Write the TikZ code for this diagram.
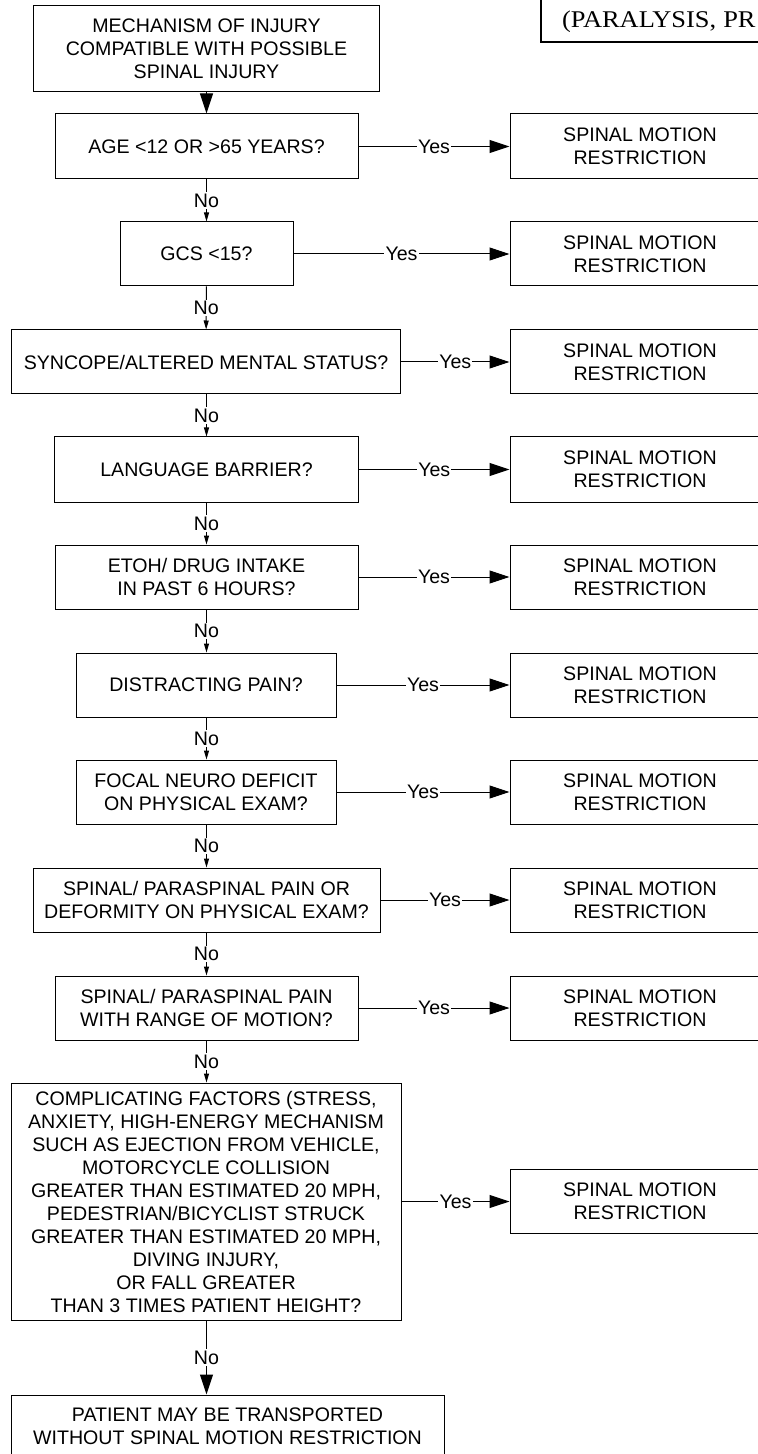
\documentclass[tikz,border=0pt]{standalone}
\usepackage{graphicx}
\usepackage{fontspec}
\setmainfont{Liberation Sans}
\newfontfamily\titlefont{Liberation Serif}
\usetikzlibrary{arrows.meta}

\begin{document}
\begin{tikzpicture}[x=0.5pt, y=-0.5pt,
    font=\fontsize{9.8}{11.5}\selectfont,
    box/.style={draw, line width=0.5pt, align=center, inner sep=0pt, minimum height=32pt},
    rbox/.style={box, minimum width=130pt},
    lbl/.style={fill=white, inner sep=0.6pt},
    big/.style={line width=0.5pt, -{Triangle[length=10pt, width=6.5pt]}},
    small/.style={line width=0.5pt, -{Triangle[length=4.5pt, width=2.5pt]}}]
    \useasboundingbox (0, 0) rectangle (758, 1454);
    \clip (0, 0) rectangle (758, 1454);
    % title box, cut off by the frame
    \node[draw, line width=1pt, anchor=south west, inner xsep=10.5pt, inner ysep=7pt,
          text height=20pt, text depth=0pt, text width=180pt, align=left] (title) at (540, 43)
          {\titlefont\fontsize{12}{14}\selectfont\scalebox{1.1}[1]{(PARALYSIS, PR}};
    % questions
    \node[box, minimum width=173pt, minimum height=43pt] (mech) at (206.5, 49)
          {MECHANISM OF INJURY\\COMPATIBLE WITH POSSIBLE\\SPINAL INJURY};
    \node[box, minimum width=151.5pt, minimum height=32.5pt] (age) at (206.5, 146.5) {AGE <12 OR >65 YEARS?};
    \node[box, minimum width=86.5pt] (gcs) at (206.5, 254) {GCS <15?};
    \node[box, minimum width=194.5pt] (sync) at (206, 362) {SYNCOPE/ALTERED MENTAL STATUS?};
    \node[box, minimum width=152pt, minimum height=32.5pt] (lang) at (206.5, 469.5) {LANGUAGE BARRIER?};
    \node[box, minimum width=151.5pt] (etoh) at (206.5, 577) {ETOH/ DRUG INTAKE\\IN PAST 6 HOURS?};
    \node[box, minimum width=130pt] (dist) at (206, 685) {DISTRACTING PAIN?};
    \node[box, minimum width=130pt] (focal) at (206, 792) {FOCAL NEURO DEFICIT\\ON PHYSICAL EXAM?};
    \node[box, minimum width=173.5pt] (defo) at (206.5, 900)
          {SPINAL/ PARASPINAL PAIN OR\\DEFORMITY ON PHYSICAL EXAM?};
    \node[box, minimum width=151.5pt] (rom) at (206.5, 1008)
          {SPINAL/ PARASPINAL PAIN\\WITH RANGE OF MOTION?};
    \node[box, minimum width=195pt, minimum height=118.5pt] (comp) at (206, 1201.5)
          {COMPLICATING FACTORS (STRESS,\\ANXIETY, HIGH-ENERGY MECHANISM\\SUCH AS EJECTION FROM VEHICLE,\\
           MOTORCYCLE COLLISION\\GREATER THAN ESTIMATED 20 MPH,\\PEDESTRIAN/BICYCLIST STRUCK\\
           GREATER THAN ESTIMATED 20 MPH,\\DIVING INJURY,\\OR FALL GREATER\\THAN 3 TIMES PATIENT HEIGHT?};
    \node[box, minimum width=216.5pt, minimum height=31pt] (patient) at (227.5, 1426)
          {PATIENT MAY BE TRANSPORTED\\WITHOUT SPINAL MOTION RESTRICTION};
    % restriction boxes
    \node[rbox, minimum height=32.5pt] (smr1) at (640, 146.5) {SPINAL MOTION\\RESTRICTION};
    \node[rbox] (smr2) at (640, 254) {SPINAL MOTION\\RESTRICTION};
    \node[rbox] (smr3) at (640, 362) {SPINAL MOTION\\RESTRICTION};
    \node[rbox, minimum height=32.5pt] (smr4) at (640, 469.5) {SPINAL MOTION\\RESTRICTION};
    \node[rbox] (smr5) at (640, 577) {SPINAL MOTION\\RESTRICTION};
    \node[rbox] (smr6) at (640, 685) {SPINAL MOTION\\RESTRICTION};
    \node[rbox] (smr7) at (640, 792) {SPINAL MOTION\\RESTRICTION};
    \node[rbox] (smr8) at (640, 900) {SPINAL MOTION\\RESTRICTION};
    \node[rbox] (smr9) at (640, 1008) {SPINAL MOTION\\RESTRICTION};
    \node[rbox] (smr10) at (640, 1201.5) {SPINAL MOTION\\RESTRICTION};
    % yes arrows
    \draw[big] (age) -- node[lbl]{Yes} (smr1);
    \draw[big] (gcs) -- node[lbl]{Yes} (smr2);
    \draw[big] (sync) -- node[lbl]{Yes} (smr3);
    \draw[big] (lang) -- node[lbl]{Yes} (smr4);
    \draw[big] (etoh) -- node[lbl]{Yes} (smr5);
    \draw[big] (dist) -- node[lbl]{Yes} (smr6);
    \draw[big] (focal) -- node[lbl]{Yes} (smr7);
    \draw[big] (defo) -- node[lbl]{Yes} (smr8);
    \draw[big] (rom) -- node[lbl]{Yes} (smr9);
    \draw[big] (comp) -- node[lbl]{Yes} (smr10);
    % no arrows
    \draw[big] (mech) -- (age);
    \draw[small] (age) -- node[lbl]{No} (gcs);
    \draw[small] (gcs) -- node[lbl]{No} (sync);
    \draw[small] (sync.south -| gcs) -- node[lbl]{No} (lang);
    \draw[small] (lang) -- node[lbl]{No} (etoh);
    \draw[small] (etoh) -- node[lbl]{No} (etoh |- dist.north);
    \draw[small] (dist.south -| etoh) -- node[lbl]{No} (etoh |- focal.north);
    \draw[small] (focal.south -| etoh) -- node[lbl]{No} (defo);
    \draw[small] (defo) -- node[lbl]{No} (rom);
    \draw[small] (rom) -- node[lbl]{No} (rom |- comp.north);
    \draw[big] (comp.south -| rom) -- node[lbl]{No} (rom |- patient.north);
\end{tikzpicture}
\end{document}
